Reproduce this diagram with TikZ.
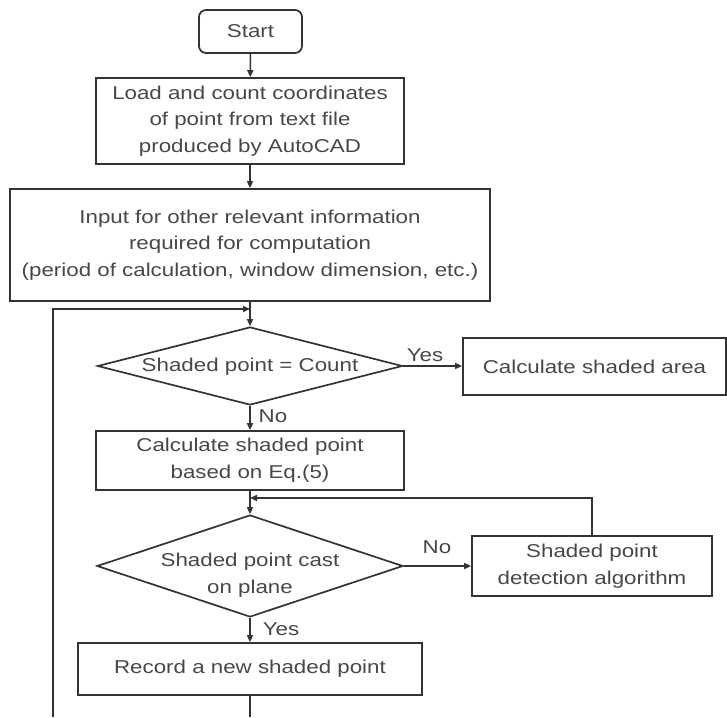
\documentclass[tikz,border=0pt]{standalone}
\usepackage{fontspec}
\setmainfont{Liberation Sans}[FakeStretch=1.2]
\usetikzlibrary{shapes.geometric,arrows.meta}
\definecolor{lncol}{HTML}{333333}
\definecolor{txcol}{HTML}{474747}
\begin{document}
\begin{tikzpicture}[x=1pt,y=-1pt,
  every node/.style={font=\fontsize{18.6pt}{26.7pt}\selectfont, text=txcol},
  box/.style={draw=lncol, line width=1.7pt, inner sep=0pt, align=center},
  dia/.style={draw=lncol, line width=1.7pt, diamond, inner sep=0pt},
  arr/.style={draw=lncol, line width=1.5pt, -{Triangle[length=7pt,width=6pt]}},
  plain/.style={draw=lncol, line width=1.5pt},
  lbl/.style={inner sep=0pt, align=center}]
\useasboundingbox (0,0) rectangle (727,717);

\node[box, rounded corners=7pt, minimum width=103pt, minimum height=43pt] (start) at (250.5,31.5) {Start};
\node[box, minimum width=308pt, minimum height=86pt] (load) at (250,121) {Load and count coordinates\\of point from text file\\produced by AutoCAD};
\node[box, minimum width=480pt, minimum height=112pt] (input) at (250,245) {Input for other relevant information\\required for computation\\(period of calculation, window dimension, etc.)};
\node[dia, minimum width=305pt, minimum height=78pt] (d1) at (250,366) {};
\node[lbl] (d1t) at (250,367) {Shaded point = Count};
\node[box, minimum width=263pt, minimum height=57pt] (area) at (594.5,366.5) {Calculate shaded area};
\node[box, minimum width=308pt, minimum height=59pt] (calc) at (250,460.5) {Calculate shaded point\\based on Eq.(5)};
\node[dia, minimum width=306pt, minimum height=102pt] (d2) at (250,566) {};
\node[lbl] (d2t) at (250,575.5) {Shaded point cast\\on plane};
\node[box, minimum width=240pt, minimum height=60pt] (det) at (592,566) {Shaded point\\detection algorithm};
\node[box, minimum width=344pt, minimum height=52pt] (rec) at (250,669) {Record a new shaded point};

\node[lbl] (yes1) at (425,355) {Yes};
\node[lbl] (no1) at (273,416) {No};
\node[lbl] (no2) at (437,547) {No};
\node[lbl] (yes2) at (281,629) {Yes};

\coordinate (j1) at (250,309);
\coordinate (j2) at (250,498);
\coordinate (bot) at (250,717);
\coordinate (lb) at (53,717);

\draw[arr] (start) -- (load);
\draw[arr] (load) -- (input);
\draw[arr] (input) -- (d1);
\draw[arr] (d1.east) -- (d1.east -| area.west);
\draw[arr] (d1) -- (calc);
\draw[arr] (calc) -- (d2);
\draw[arr] (d2.east) -- (d2.east -| det.west);
\draw[arr] (det.north) |- (j2);
\draw[arr] (d2) -- (rec);
\draw[plain] (rec) -- (bot);
\draw[arr] (lb) |- (j1);
\end{tikzpicture}
\end{document}
